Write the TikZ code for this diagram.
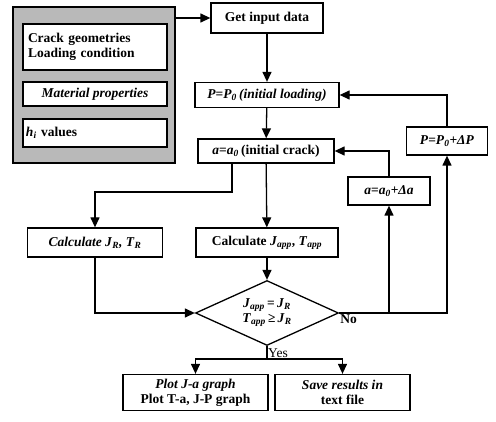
\documentclass[tikz,border=0pt]{standalone}
\usepackage{fontspec}
\setmainfont{Liberation Serif}
\usetikzlibrary{arrows.meta,shapes.geometric}
\newcommand{\iv}[1]{\textit{#1}}
\newcommand{\isub}[1]{\textsubscript{\textit{#1}}}
\begin{document}
\begin{tikzpicture}[x=1pt,y=-1pt,
	blk/.style={draw,line width=1.3pt,fill=white,inner sep=2pt,align=center,font=\bfseries\fontsize{13.5}{15}\selectfont},
	arr/.style={line width=1.3pt,-{Triangle[length=10pt,width=9pt]}},
	ln/.style={line width=1.3pt}]
	\useasboundingbox (0,0) rectangle (496,422);
	% input data
	\node[draw,line width=2pt,fill=gray!55,minimum width=162pt,minimum height=156pt] (input) at (94,85) {};
	\node[blk,minimum width=144pt,minimum height=46pt,text width=134pt,align=left,inner xsep=5pt] (crack) at (95,47) {Crack geometries\\Loading condition};
	\node[blk,minimum width=144pt,minimum height=24pt] (mat) at (95,94) {\iv{Material properties}};
	\node[blk,minimum width=144pt,minimum height=28pt,text width=138pt,align=left,inner xsep=3pt] (hval) at (95,133) {\iv{h}\isub{i} values};
	% main column
	\node[blk,minimum width=112pt,minimum height=30pt] (get) at (267,18) {Get input data};
	\node[blk,minimum width=144pt,minimum height=25pt] (pinit) at (267,95) {\iv{P}=\iv{P}\isub{0}\,\iv{(initial loading)}};
	\node[blk,minimum width=136pt,minimum height=24pt] (ainit) at (266,151) {\iv{a}=\iv{a}\isub{0}\,(initial crack)};
	\node[blk,minimum width=81pt,minimum height=28pt] (pinc) at (447,141) {\iv{P}=\iv{P}\isub{0}+\iv{ΔP}};
	\node[blk,minimum width=82pt,minimum height=28pt] (ainc) at (389,191) {\iv{a}=\iv{a}\isub{0}+\iv{Δa}};
	\node[blk,minimum width=135pt,minimum height=29pt] (calcR) at (95,242.5) {\iv{Calculate J}\isub{R}\iv{, T}\isub{R}};
	\node[blk,minimum width=142pt,minimum height=29pt] (calcA) at (267,242.5) {Calculate \iv{J}\isub{app}, \iv{T}\isub{app}};
	\node[blk,shape=diamond,inner sep=0pt,aspect=2.2,minimum width=143pt,minimum height=65pt] (check) at (267,313) {\iv{J}\isub{app}\,=\,\iv{J}\isub{R}\\\iv{T}\isub{app}\,≥\,\iv{J}\isub{R}};
	\node[blk,minimum width=145pt,minimum height=36pt] (plot) at (195.5,392.5) {\iv{Plot J-a graph}\\Plot T-a, J-P graph};
	\node[blk,minimum width=135pt,minimum height=36pt] (save) at (342.5,392.5) {\iv{Save results in}\\text file};
	\node[anchor=north west,inner sep=1pt,font=\bfseries\fontsize{13.5}{15}\selectfont] (no) at (check.east) {No};
	\coordinate (fork) at (267,359);
	\coordinate (split) at (232,192);
	\node[anchor=south west,inner sep=1pt,font=\fontsize{13.5}{15}\selectfont] (yes) at (fork) {Yes};
	% connectors
	\draw[arr] (input.east |- get.west) -- (get.west);
	\draw[arr] (get) -- (pinit);
	\draw[arr] (pinit) -- (ainit);
	\draw[arr] (ainit) -- (calcA);
	\draw[arr] (split |- ainit.south) -- (split) -| (calcR.north);
	\draw[arr] (calcR.south) |- (check.west);
	\draw[arr] (calcA) -- (check);
	\draw[arr] (check.east) -| (pinc.south);
	\draw[arr] (check.east -| ainc.south) -- (ainc.south);
	\draw[arr] (ainc.north) |- (ainit.east);
	\draw[arr] (pinc.north) |- (pinit.east);
	\draw[ln] (check.south) -- (fork);
	\draw[arr] (fork) -| (plot.north);
	\draw[arr] (fork) -| (save.north);
\end{tikzpicture}
\end{document}
